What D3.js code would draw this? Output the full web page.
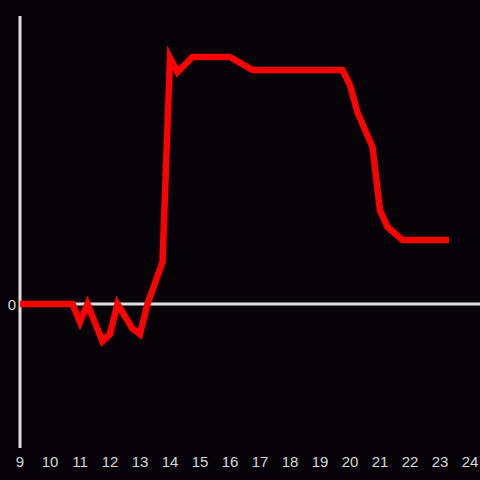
<!DOCTYPE html>
<html>
<head>
<meta charset="utf-8">
<script src="https://cdn.jsdelivr.net/npm/d3@7"></script>
<style>
html,body{margin:0;padding:0;background:#050308;}
svg{display:block;}
</style>
</head>
<body>
<script>
const hours = [9, 10.75, 11.0, 11.25, 11.75, 12.0, 12.25, 12.75, 13.0, 13.25, 13.75, 14.0, 14.25, 14.75, 16.0, 16.75, 19.75, 20.0, 20.25, 20.75, 21.0, 21.25, 21.75, 23.3];
const values = [0, 0, -0.125, 0, -0.26, -0.21, 0, -0.17, -0.21, 0, 0.29, 1.71, 1.61, 1.715, 1.715, 1.625, 1.625, 1.52, 1.33, 1.09, 0.65, 0.535, 0.444, 0.444];
const xTicks = [9,10,11,12,13,14,15,16,17,18,19,20,21,22,23,24];
const yTicks = [0];

const W = 480, H = 480;
const svg = d3.select("body").append("svg").attr("width", W).attr("height", H)
  .style("background", "#050308");

const x = d3.scaleLinear().domain([9, 24]).range([20, 470]);
const y = d3.scaleLinear().domain([-1, 2]).range([448, 16]);

svg.append("line")
  .attr("x1", x(9)).attr("x2", x(9))
  .attr("y1", y(2)).attr("y2", y(-1))
  .attr("stroke", "#e0e0e0").attr("stroke-width", 3);

svg.append("line")
  .attr("x1", x(9)).attr("x2", W)
  .attr("y1", y(0)).attr("y2", y(0))
  .attr("stroke", "#e0e0e0").attr("stroke-width", 3);

svg.append("g").selectAll("text").data(xTicks).enter().append("text")
  .attr("x", d => Math.min(x(d), 470))
  .attr("y", 461)
  .attr("text-anchor", "middle")
  .attr("dominant-baseline", "central")
  .attr("fill", "#d8d8d8")
  .attr("font-family", "Liberation Sans, Arial, sans-serif")
  .attr("font-size", 15)
  .text(d => d);

svg.append("g").selectAll("text").data(yTicks).enter().append("text")
  .attr("x", 16)
  .attr("y", d => y(d))
  .attr("text-anchor", "end")
  .attr("dominant-baseline", "central")
  .attr("fill", "#d8d8d8")
  .attr("font-family", "Liberation Sans, Arial, sans-serif")
  .attr("font-size", 15)
  .text(d => d);

const data = hours.map((h, i) => ({h, v: values[i]}));
const line = d3.line().x(d => x(d.h)).y(d => y(d.v));

svg.append("path")
  .datum(data)
  .attr("d", line)
  .attr("fill", "none")
  .attr("stroke", "#ff0000")
  .attr("stroke-width", 6.5)
  .attr("stroke-linejoin", "miter")
  .attr("stroke-linecap", "butt");
</script>
</body>
</html>
